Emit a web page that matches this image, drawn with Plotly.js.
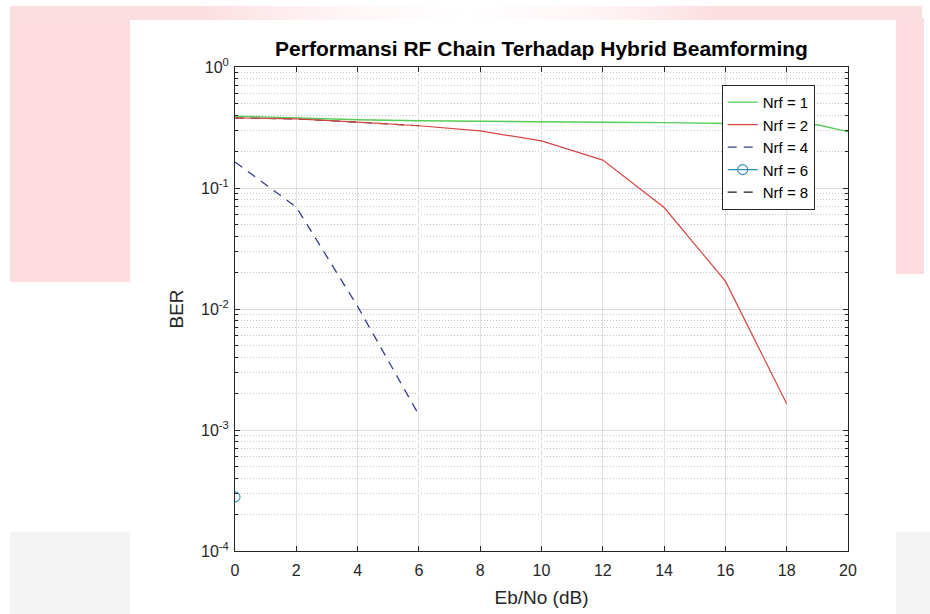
<!DOCTYPE html>
<html>
<head>
<meta charset="utf-8">
<script src="https://cdn.plot.ly/plotly-3.0.1.min.js"></script>
<style>
  html, body { margin: 0; padding: 0; background: #ffffff; }
  #wrap { position: relative; width: 930px; height: 614px; overflow: hidden; }
  .deco { position: absolute; }
  #chart { position: absolute; left: 0; top: 0; width: 930px; height: 614px; }
</style>
</head>
<body>
<div id="wrap">
  <div class="deco" style="left:10px;top:6px;width:912px;height:14px;background:linear-gradient(to right,#fcdde0 0%,#fcdde0 20%,#fff4f5 35%,#ffffff 50%,#fff4f5 65%,#fcdde0 78%,#fcdde0 100%);"></div>
  <div class="deco" style="left:10px;top:18px;width:120px;height:264px;background:#fddde0;"></div>
  <div class="deco" style="left:896px;top:18px;width:28px;height:256px;background:#fddde0;"></div>
  <div class="deco" style="left:10px;top:532px;width:120px;height:82px;background:#f3f3f3;"></div>
  <div class="deco" style="left:896px;top:532px;width:34px;height:82px;background:#f3f3f3;"></div>
  <div id="chart"></div>
</div>
<script>
// Eb/No (dB) values and BER readings
const ebno1 = [0, 2, 4, 6, 8, 10, 12, 14, 16, 18, 19, 20];
const ber1  = [0.393, 0.378, 0.366, 0.36, 0.355, 0.35, 0.349, 0.347, 0.343, 0.338, 0.333, 0.292];

const ebno2 = [0, 2, 4, 6, 8, 10, 12, 14, 16, 18];
const ber2  = [0.38, 0.372, 0.35, 0.327, 0.296, 0.245, 0.17, 0.069, 0.017, 0.00165];

const ebno4 = [0, 2, 4, 6];
const ber4  = [0.164, 0.0695, 0.0105, 0.00133];

const ebno6 = [0];
const ber6  = [0.00028];

const ebno8 = [0, 2, 4, 6];
const ber8  = [0.38, 0.372, 0.35, 0.327];

const seriesNames = ['Nrf = 1', 'Nrf = 2', 'Nrf = 4', 'Nrf = 6', 'Nrf = 8'];
const yTickVals = [1e-4, 1e-3, 1e-2, 1e-1, 1];
const yTickText = ['10<sup>-4</sup>', '10<sup>-3</sup>', '10<sup>-2</sup>', '10<sup>-1</sup>', '10<sup>0</sup>'];
const xTickVals = [0, 2, 4, 6, 8, 10, 12, 14, 16, 18, 20];

const traces = [
  // Nrf = 8 drawn first so the other curves sit on top of it
  { x: ebno8, y: ber8, name: seriesNames[4], mode: 'lines', legendgroup: 'e', legendrank: 5,
    line: { color: '#1a1a1a', width: 1.1, dash: '9px,7px' } },
  { x: ebno1, y: ber1, name: seriesNames[0], mode: 'lines', legendgroup: 'a', legendrank: 1,
    line: { color: '#55cc55', width: 1.4 } },
  { x: ebno2, y: ber2, name: seriesNames[1], mode: 'lines', legendgroup: 'b', legendrank: 2,
    line: { color: '#d64545', width: 1.2 } },
  { x: ebno4, y: ber4, name: seriesNames[2], mode: 'lines', legendgroup: 'c', legendrank: 3,
    line: { color: '#333a8c', width: 1.3, dash: '9px,7px' } },
  { x: ebno6, y: ber6, name: seriesNames[3], mode: 'lines+markers', legendgroup: 'd', legendrank: 4,
    line: { color: '#2f8fb8', width: 1.1 },
    marker: { symbol: 'circle-open', size: 10, color: '#2f8fb8', line: { width: 1.1 } } }
];

const font = 'Liberation Sans, Arial, Helvetica, sans-serif';

const layout = {
  width: 930, height: 614,
  margin: { l: 235, r: 82, t: 67, b: 63, pad: 0 },
  paper_bgcolor: 'rgba(0,0,0,0)',
  plot_bgcolor: '#ffffff',
  font: { family: font, size: 16, color: '#262626' },
  title: { text: '<b>Performansi RF Chain Terhadap Hybrid Beamforming</b>',
           font: { family: font, size: 21, color: '#000000' },
           x: 0.5, xref: 'paper', xanchor: 'center', y: 1, yref: 'paper', yanchor: 'bottom', pad: { b: 11 } },
  showlegend: true,
  legend: { x: 0.794, xanchor: 'left', y: 0.963, yanchor: 'top',
            bgcolor: '#ffffff', bordercolor: '#262626', borderwidth: 1,
            font: { family: font, size: 15, color: '#000000' },
            traceorder: 'grouped', tracegroupgap: 0, itemwidth: 30,
            entrywidth: 62, entrywidthmode: 'pixels' },
  xaxis: {
    range: [0, 20], tickvals: xTickVals, ticktext: xTickVals.map(String),
    showgrid: true, gridcolor: '#e2e2e2', gridwidth: 1,
    showline: true, linecolor: '#262626', linewidth: 1, mirror: 'ticks',
    ticks: 'inside', ticklen: 5, tickcolor: '#262626', ticklabelstandoff: 5,
    zeroline: false, tickfont: { family: font, size: 16, color: '#262626' },
    title: { text: 'Eb/No (dB)', font: { family: font, size: 19, color: '#262626' }, standoff: 12 }
  },
  yaxis: {
    type: 'log', range: [-4, 0], tickvals: yTickVals, ticktext: yTickText,
    showgrid: true, gridcolor: '#dcdcdc', gridwidth: 1,
    showline: true, linecolor: '#262626', linewidth: 1, mirror: 'ticks',
    ticks: 'inside', ticklen: 5, tickcolor: '#262626', ticklabelstandoff: 2,
    zeroline: false, tickfont: { family: font, size: 16, color: '#262626' },
    minor: { dtick: 'D1', showgrid: true, griddash: '1px,2px', gridcolor: '#c4c4c4', gridwidth: 1,
             ticks: 'inside', ticklen: 3, tickcolor: '#262626' },
    title: { text: 'BER', font: { family: font, size: 19, color: '#262626' }, standoff: 12 }
  }
};

Plotly.newPlot('chart', traces, layout, { staticPlot: true, displayModeBar: false });
</script>
</body>
</html>
